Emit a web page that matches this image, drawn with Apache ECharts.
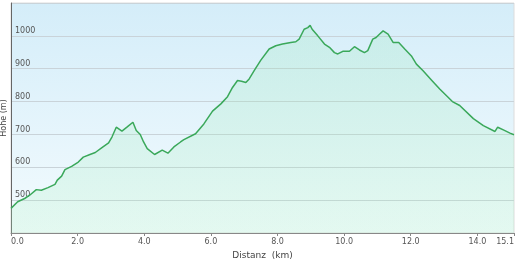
<!DOCTYPE html>
<html><head><meta charset="utf-8">
<script src="https://cdn.jsdelivr.net/npm/echarts@6/dist/echarts.min.js"></script>
<style>html,body{margin:0;padding:0;background:#fff}#c{width:520px;height:260px}</style>
</head><body><div id="c"></div>
<script>
const distanceKm = [0.00,0.20,0.41,0.56,0.76,0.91,1.11,1.32,1.39,1.52,1.62,1.82,2.02,2.17,2.37,2.53,2.73,2.93,3.03,3.16,3.33,3.48,3.66,3.76,3.88,3.98,4.09,4.31,4.54,4.71,4.89,5.09,5.19,5.54,5.79,6.05,6.30,6.50,6.65,6.80,6.92,7.05,7.15,7.30,7.50,7.75,7.95,8.15,8.40,8.55,8.65,8.80,8.91,8.98,9.04,9.21,9.41,9.56,9.71,9.81,9.96,10.16,10.31,10.46,10.61,10.71,10.86,10.96,11.06,11.17,11.32,11.47,11.64,11.82,12.02,12.17,12.37,12.62,12.87,13.25,13.47,13.88,14.18,14.53,14.61,14.78,14.98,15.10];
const elevationM = [475,495,505,515,532,530,538,548,561,573,593,603,616,631,639,645,660,674,692,722,710,722,737,712,700,677,657,639,652,643,662,677,684,702,732,771,793,815,843,864,862,858,869,894,926,960,970,975,980,982,990,1020,1025,1032,1020,1000,975,965,949,945,953,953,967,957,949,955,990,995,1005,1015,1005,980,980,960,939,914,894,866,838,800,788,748,727,709,722,714,704,699];
const xName = 'Distanz  (km)';
const yName = 'Höhe (m)';

const chart = echarts.init(document.getElementById('c'), null, {renderer:'canvas'});
const font = 'DejaVu Sans';
chart.setOption({
  animation: false,
  grid: {
    left: 11, right: 6, top: 3, bottom: 27,
    containLabel: false, outerBoundsMode: 'none',
    show: true, borderColor: '#dcdcdc', borderWidth: 1,
    backgroundColor: new echarts.graphic.LinearGradient(0,0,0,1,[
      {offset:0,color:'#d4edf9'},{offset:1,color:'#f3fbfe'}])
  },
  xAxis: {
    type: 'value', min: 0, max: 15.1, interval: 2,
    name: xName, nameLocation: 'middle', nameGap: 15,
    nameTextStyle: {fontFamily: font, fontSize: 9, color: '#444'},
    axisLine: {show: true, lineStyle: {color: '#888', width: 1}},
    axisTick: {show: true, length: 3, lineStyle: {color: '#888'}},
    axisLabel: {fontFamily: font, fontSize: 8, color: '#555', margin: 5,
      showMaxLabel: true, alignMinLabel: 'left', alignMaxLabel: 'right',
      formatter: v => v.toFixed(1)},
    splitLine: {show: false}
  },
  yAxis: {
    type: 'value', min: 400, max: 1100, interval: 100,
    name: yName, nameLocation: 'middle', nameGap: 3, nameRotate: 90,
    nameMoveOverlap: false,
    nameTextStyle: {fontFamily: font, fontSize: 8, color: '#444'},
    axisLine: {show: true, lineStyle: {color: '#666', width: 1}},
    axisTick: {show: false},
    axisLabel: {inside: true, fontFamily: font, fontSize: 8, color: '#555', margin: 4,
      verticalAlign: 'bottom', padding: [0,0,1,0], showMinLabel: false, showMaxLabel: false,
      formatter: v => String(v)},
    splitLine: {show: true, lineStyle: {color: '#c9d3d9', width: 1}}
  },
  series: [{
    type: 'line',
    data: distanceKm.map((d,i) => [d, elevationM[i]]),
    showSymbol: false, smooth: false,
    lineStyle: {color: '#3aa85a', width: 1.5},
    areaStyle: {color: new echarts.graphic.LinearGradient(0,0,0,1,[
      {offset:0,color:'rgba(140,230,170,0.28)'},{offset:1,color:'rgba(170,240,190,0.3)'}])}
  }]
});
</script></body></html>
